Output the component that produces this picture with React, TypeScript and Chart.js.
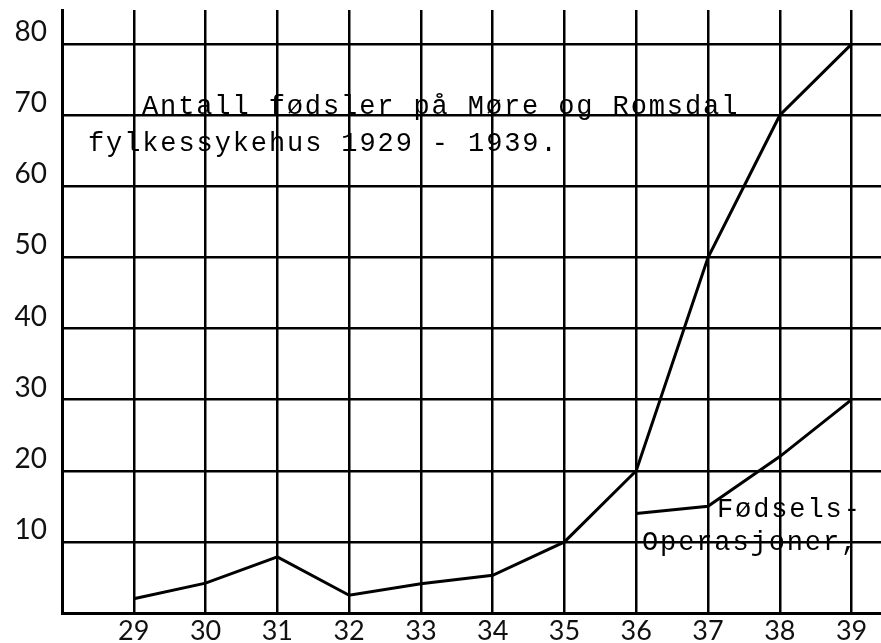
import React, { useEffect, useRef } from "react";
import { Chart, registerables } from "chart.js";

Chart.register(...registerables);

const years = [29, 30, 31, 32, 33, 34, 35, 36, 37, 38, 39];
const births = [2, 4.2, 7.9, 2.5, 4.1, 5.3, 10, 20, 50, 70, 80];
const operations: (number | null)[] = [null, null, null, null, null, null, null, 14, 15, 22, 30];
const yTicks = [10, 20, 30, 40, 50, 60, 70, 80];
const titleLines = ["Antall fødsler på Møre og Romsdal", "fylkessykehus 1929 - 1939."];
const noteLines = ["Fødsels-", "Operasjoner,"];

const TYPE_FONT = '27px "Liberation Mono", "DejaVu Sans Mono", monospace';
const CELL = 18.1;

function typeLine(ctx: CanvasRenderingContext2D, text: string, x: number, y: number) {
  Array.from(text).forEach((ch, i) => {
    if (ch === " ") return;
    ctx.fillText(ch, x + i * CELL + CELL / 2, y);
  });
}

const textPlugin = {
  id: "typedText",
  afterDatasetsDraw(chart: any) {
    const ctx = chart.ctx as CanvasRenderingContext2D;
    ctx.save();
    ctx.fillStyle = "#000";
    ctx.font = TYPE_FONT;
    ctx.textBaseline = "alphabetic";
    ctx.textAlign = "center";
    typeLine(ctx, titleLines[0], 141, 114);
    typeLine(ctx, titleLines[1], 87, 151);
    typeLine(ctx, noteLines[0], 716, 517);
    typeLine(ctx, noteLines[1], 641, 550);
    ctx.restore();
  },
};

export default function App() {
  const ref = useRef<HTMLCanvasElement | null>(null);
  useEffect(() => {
    if (!ref.current) return;
    const chart = new Chart(ref.current, {
      type: "line",
      data: {
        datasets: [
          {
            data: years.map((x, i) => ({ x, y: births[i] })),
            borderColor: "#000",
            borderWidth: 3,
            pointRadius: 0,
            tension: 0,
          },
          {
            data: years.map((x, i) => ({ x, y: operations[i] })),
            borderColor: "#000",
            borderWidth: 3,
            pointRadius: 0,
            tension: 0,
            spanGaps: false,
          },
        ],
      },
      options: {
        animation: false,
        responsive: false,
        events: [],
        layout: { padding: { top: 10, left: 0, right: 0, bottom: 0 } },
        plugins: { legend: { display: false }, tooltip: { enabled: false }, title: { display: false } },
        scales: {
          x: {
            type: "linear",
            min: 28,
            max: 39.41,
            afterBuildTicks: (s: any) => {
              s.ticks = years.map((v) => ({ value: v }));
            },
            afterFit: (s: any) => {
              s.height = 30;
              s.paddingLeft = 0;
              s.paddingRight = 0;
            },
            grid: { color: "#000", lineWidth: 2.5, drawTicks: false },
            border: { color: "#000", width: 3 },
            ticks: {
              color: "#111",
              padding: 2,
              font: { family: "Lato", size: 27 },
              maxRotation: 0,
              autoSkip: false,
              callback: (v: any) => String(v),
            },
          },
          y: {
            type: "linear",
            min: 0,
            max: 84.8,
            afterBuildTicks: (s: any) => {
              s.ticks = [0, ...yTicks].map((v) => ({ value: v }));
            },
            afterFit: (s: any) => {
              s.width = 62;
              s.paddingTop = 0;
              s.paddingBottom = 0;
            },
            grid: { color: "#000", lineWidth: 2.5, drawTicks: false },
            border: { color: "#000", width: 3 },
            ticks: {
              color: "#111",
              padding: 15,
              labelOffset: -12,
              font: { family: "Lato", size: 28 },
              callback: (v: any) => (v === 0 ? "" : String(v)),
            },
          },
        },
      },
      plugins: [textPlugin],
    });
    return () => chart.destroy();
  }, []);
  return (
    <div style={{ position: "absolute", left: 0, top: 0, width: 881, height: 643, background: "#fff" }}>
      <canvas ref={ref} width={881} height={643} style={{ display: "block" }} />
    </div>
  );
}
